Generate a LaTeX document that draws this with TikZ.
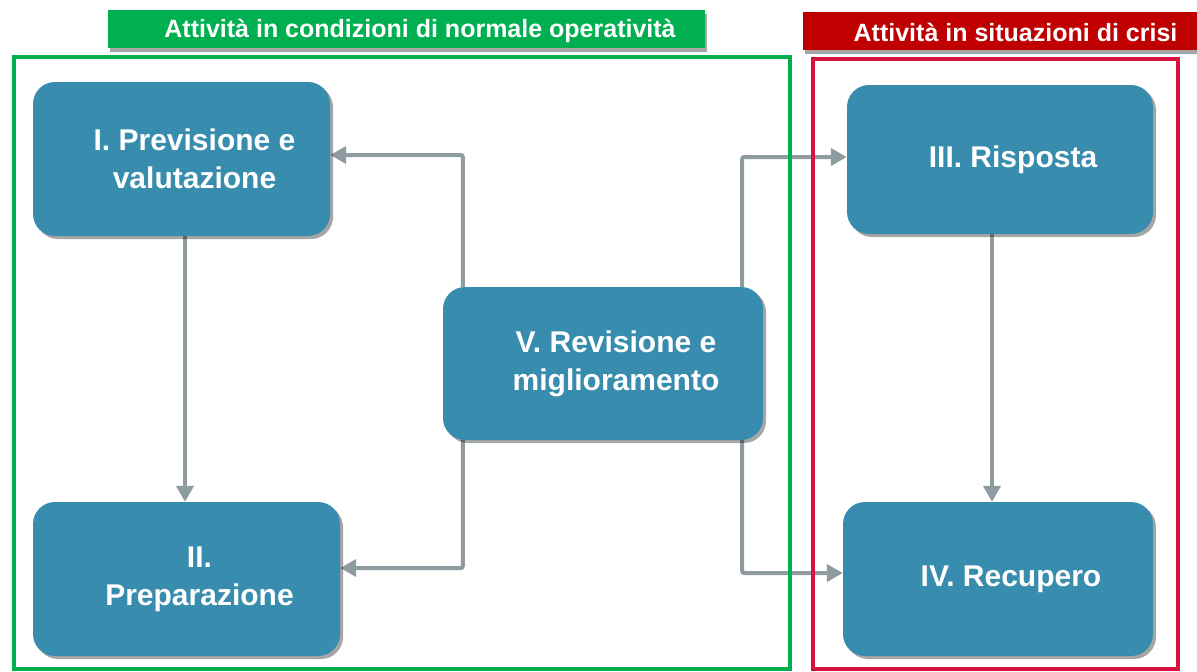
\documentclass[tikz,border=0pt]{standalone}
\usepackage{fontspec}
\setmainfont{Liberation Sans}
\usetikzlibrary{arrows.meta,shadows,calc}
\pgfdeclarelayer{background}
\pgfsetlayers{background,main}
\definecolor{boxblue}{HTML}{388CAD}
\definecolor{arrgray}{HTML}{8E9CA2}
\definecolor{hgreen}{HTML}{00B050}
\definecolor{hred}{HTML}{C00000}
\definecolor{fred}{HTML}{DA1040}
\begin{document}
\begin{tikzpicture}[x=1pt,y=-1pt,
  stagebox/.style={fill=boxblue, draw=none, rounded corners=22pt,
    drop shadow={shadow xshift=3pt, shadow yshift=-3pt, opacity=0.35, fill=black}},
  stagetext/.style={text=white, font=\bfseries\fontsize{30}{38}\selectfont, align=center, inner sep=0pt},
  headtext/.style={text=white, font=\bfseries\fontsize{25}{28}\selectfont, inner sep=0pt},
  headbox/.style={minimum height=38pt, inner sep=0pt,
    drop shadow={shadow xshift=2pt, shadow yshift=-4pt, opacity=0.35, fill=black}},
  arr/.style={draw=arrgray, line width=4pt, rounded corners=2pt, -{Triangle[length=16pt,width=17pt]}},
  frame/.style={line width=4pt}
]
\useasboundingbox (0,0) rectangle (1197,672);

% headers
\node[headbox, fill=hgreen, minimum width=597pt] (gh) at (406.5,29) {};
\node[headtext] (ght) at (420,31) {Attività in condizioni di normale operatività};
\node[headbox, fill=hred, minimum width=394pt] (rh) at (1000,31) {};
\node[headtext] (rht) at (1015.5,32) {Attività in situazioni di crisi};

% boxes
\node[stagebox, minimum width=297pt, minimum height=154pt] (I) at (181.5,159) {};
\node[stagebox, minimum width=307pt, minimum height=154pt] (II) at (186.5,579) {};
\node[stagebox, minimum width=306pt, minimum height=149pt] (III) at (1000,159.5) {};
\node[stagebox, minimum width=310pt, minimum height=154pt] (IV) at (998,579) {};
\node[stagebox, minimum width=320pt, minimum height=153pt] (V) at (603,363.5) {};

% connectors (behind frames and boxes)
\begin{pgfonlayer}{background}
\draw[arr] ([xshift=3.5pt]I.south) -- ([xshift=3.5pt]I.south |- II.north);
\draw[arr] ([xshift=-8pt]III.south) -- ([xshift=-8pt]III.south |- IV.north);
\draw[arr] ([xshift=20pt]V.north west) |- ([yshift=4pt]I.east);
\draw[arr] ([xshift=-21pt]V.north east) |- ([yshift=2.5pt]III.west);
\draw[arr] ([xshift=20pt]V.south west) |- ([yshift=11pt]II.east);
\draw[arr] ([xshift=-21pt]V.south east) |- ([yshift=6pt]IV.west);
\end{pgfonlayer}

% frames
\draw[frame, draw=hgreen] (13.5,57) rectangle (790,669);
\draw[frame, draw=fred] (813,59) rectangle (1178,669);

% texts
\node[stagetext] (It) at ([xshift=13pt]I.center) {I. Previsione e\\valutazione};
\node[stagetext] (IIt) at ([xshift=13pt]II.center) {II.\\Preparazione};
\node[stagetext] (IIIt) at ([xshift=13pt]III.center) {III. Risposta};
\node[stagetext] (IVt) at ([xshift=13pt]IV.center) {IV. Recupero};
\node[stagetext] (Vt) at ([xshift=13pt]V.center) {V. Revisione e\\miglioramento};
\end{tikzpicture}
\end{document}
